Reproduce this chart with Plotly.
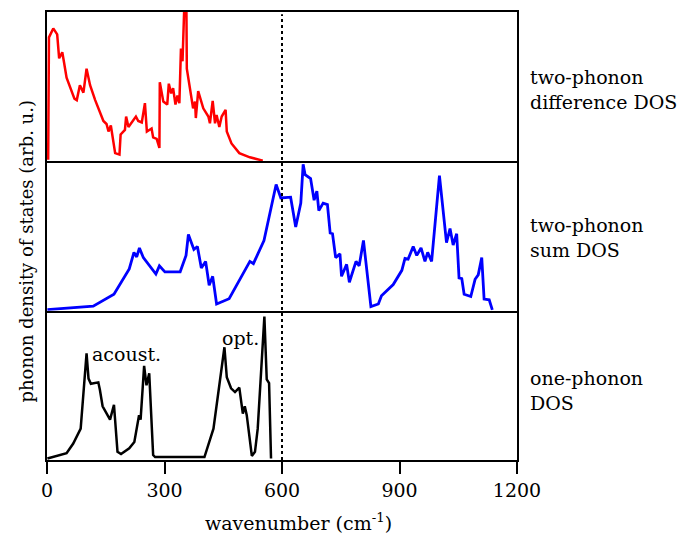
import plotly.graph_objects as go
from plotly.subplots import make_subplots

# two-phonon difference DOS (arb. u.)
diff_x = [3, 5, 16, 26, 31, 39, 43, 50, 70, 76, 84, 93, 101, 110, 123, 144, 152, 157, 163,
          174, 185, 188, 199, 202, 208, 227, 233, 242, 250, 255, 267, 271, 280, 287, 288,
          297, 307, 311, 317, 322, 328, 333, 338, 342, 346, 350, 355, 357, 365, 373, 378,
          380, 386, 399, 412, 416, 423, 429, 433, 440, 446, 456, 459, 471, 491, 518, 551]
diff_y = [0.01, 0.83, 0.89, 0.85, 0.69, 0.73, 0.67, 0.56, 0.42, 0.41, 0.51, 0.46, 0.62, 0.51,
          0.41, 0.27, 0.25, 0.2, 0.24, 0.055, 0.045, 0.18, 0.21, 0.30, 0.23, 0.30, 0.27, 0.26,
          0.39, 0.2, 0.22, 0.16, 0.15, 0.09, 0.53, 0.40, 0.38, 0.52, 0.455, 0.49, 0.38, 0.44,
          0.39, 0.755, 0.67, 1.4, 1.4, 0.62, 0.49, 0.355, 0.40, 0.29, 0.47, 0.355, 0.30, 0.255,
          0.405, 0.255, 0.31, 0.23, 0.30, 0.345, 0.2, 0.12, 0.055, 0.027, 0.005]

# two-phonon sum DOS (arb. u.)
sum_x = [1, 118, 171, 210, 222, 229, 236, 246, 278, 287, 301, 340, 355, 361, 375, 384, 394,
         405, 414, 423, 433, 465, 518, 527, 554, 585, 597, 622, 635, 648, 654, 659, 673, 682,
         689, 694, 705, 716, 723, 729, 737, 748, 752, 765, 772, 789, 797, 808, 827, 846, 854,
         884, 906, 914, 922, 935, 944, 955, 965, 972, 982, 1002, 1020, 1029, 1037, 1046, 1052,
         1059, 1065, 1082, 1093, 1101, 1110, 1116, 1129, 1137]
sum_y = [0.007, 0.03, 0.11, 0.28, 0.39, 0.36, 0.42, 0.355, 0.245, 0.30, 0.26, 0.26, 0.37, 0.51,
         0.41, 0.43, 0.285, 0.33, 0.17, 0.23, 0.045, 0.08, 0.33, 0.315, 0.47, 0.845, 0.755,
         0.76, 0.56, 0.72, 0.98, 0.91, 0.885, 0.74, 0.80, 0.67, 0.72, 0.71, 0.52, 0.515, 0.355,
         0.38, 0.23, 0.31, 0.19, 0.33, 0.30, 0.47, 0.027, 0.045, 0.10, 0.175, 0.27, 0.35, 0.345,
         0.43, 0.37, 0.42, 0.33, 0.39, 0.33, 0.905, 0.455, 0.55, 0.44, 0.515, 0.22, 0.215, 0.11,
         0.095, 0.21, 0.24, 0.355, 0.078, 0.073, 0.005]

# one-phonon DOS (arb. u.)
one_x = [1, 50, 67, 86, 101, 106, 112, 131, 135, 142, 161, 171, 180, 189, 210, 223, 235, 239,
         248, 254, 261, 271, 276, 402, 425, 453, 459, 470, 480, 491, 500, 505, 510, 523, 531,
         538, 555, 561, 567, 572]
one_y = [0.01, 0.045, 0.11, 0.21, 0.715, 0.545, 0.51, 0.52, 0.47, 0.36, 0.27, 0.37, 0.055, 0.04,
         0.078, 0.12, 0.30, 0.27, 0.63, 0.50, 0.58, 0.033, 0.02, 0.02, 0.21, 0.755, 0.555, 0.48,
         0.455, 0.485, 0.31, 0.36, 0.30, 0.027, 0.055, 0.21, 0.96, 0.54, 0.515, 0.01]

x_ticks = [0, 300, 600, 900, 1200]
panel_labels = ["two-phonon<br>difference DOS", "two-phonon<br>sum DOS", "one-phonon<br>DOS"]
peak_labels = [("acoust.", 204, 0.713), ("opt.", 493, 0.82)]
marker_line_x = 600

FONT = "DejaVu Serif"
TEXT = dict(family=FONT, size=19, color="black")

fig = make_subplots(rows=3, cols=1, shared_xaxes=True, vertical_spacing=0)

fig.add_trace(go.Scatter(x=diff_x, y=diff_y, mode="lines",
                         line=dict(color="#ff0000", width=2.5)), row=1, col=1)
fig.add_trace(go.Scatter(x=sum_x, y=sum_y, mode="lines",
                         line=dict(color="#0000ff", width=2.8)), row=2, col=1)
fig.add_trace(go.Scatter(x=one_x, y=one_y, mode="lines",
                         line=dict(color="#000000", width=2.5)), row=3, col=1)

for r in (1, 2, 3):
    fig.update_yaxes(range=[0, 1], showticklabels=False, ticks="", showgrid=False,
                     zeroline=False, showline=True, linecolor="black", linewidth=2,
                     mirror=True, row=r, col=1)
    # only the bottom edge of each panel gets a line, so shared edges stay single
    fig.update_xaxes(range=[0, 1200], showgrid=False, zeroline=False, showline=True,
                     linecolor="black", linewidth=2, mirror=(r == 1), row=r, col=1)

fig.update_xaxes(tickvals=x_ticks, ticktext=[str(t) for t in x_ticks], ticks="outside",
                 ticklen=12, tickwidth=2, tickcolor="black", tickfont=TEXT, row=3, col=1)

# dotted reference line through all three panels
fig.add_shape(type="line", xref="x3", yref="paper", x0=marker_line_x, x1=marker_line_x,
              y0=0, y1=0.995, line=dict(color="black", width=2, dash="dot"))

annotations = []
for label, ypos in zip(panel_labels, [0.827, 0.496, 0.156]):
    annotations.append(dict(text=label, xref="paper", yref="paper", x=1.023, y=ypos,
                            xanchor="left", yanchor="middle", align="left", showarrow=False,
                            font=TEXT))
for label, xv, yv in peak_labels:
    annotations.append(dict(text=label, xref="x3", yref="y3", x=xv, y=yv,
                            xanchor="center", yanchor="middle", showarrow=False, font=TEXT))
annotations.append(dict(text="phonon density of states (arb. u.)", xref="paper",
                        yref="paper", x=-0.043, y=0.467, textangle=-90, xanchor="center",
                        yanchor="middle", showarrow=False,
                        font=dict(family=FONT, size=18, color="black")))
annotations.append(dict(text="wavenumber (cm<sup>-1</sup>)", xref="paper", yref="paper",
                        x=0.536, y=-0.138, xanchor="center", yanchor="middle",
                        showarrow=False, font=TEXT))

fig.update_layout(width=680, height=537, margin=dict(l=47, r=163, t=10, b=77),
                  paper_bgcolor="white", plot_bgcolor="white", showlegend=False,
                  annotations=annotations, font=TEXT)

fig.write_html("out.html")
